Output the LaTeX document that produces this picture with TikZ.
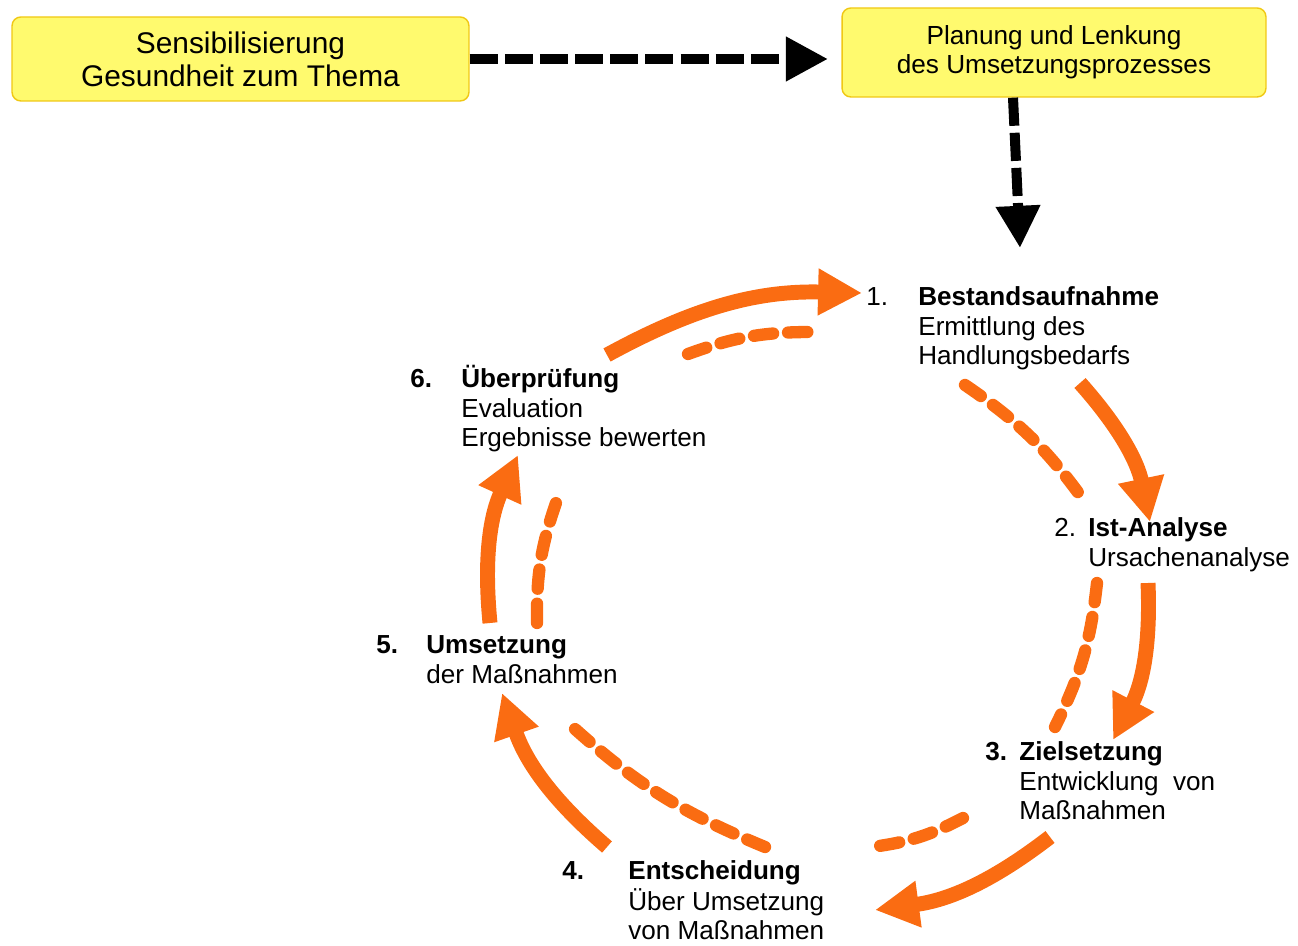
\documentclass[tikz,border=0pt]{standalone}
\usepackage{fontspec}
\setmainfont{Liberation Sans}
\usetikzlibrary{arrows.meta}
\definecolor{cycleorange}{RGB}{250,108,18}
\definecolor{boxyellow}{RGB}{255,250,110}
\definecolor{boxrim}{RGB}{240,200,20}
\newcommand{\stepblock}[1]{\begin{tabular}[t]{@{}l@{}}#1\end{tabular}}
\begin{document}
\begin{tikzpicture}[x=0.02cm, y=0.02cm,
    topbox/.style={draw=boxrim, line width=0.8pt, fill=boxyellow, rounded corners=5pt, align=center, inner sep=0pt},
    blackflow/.style={line width=5.7pt, dash pattern=on 16pt off 4pt, -{Triangle[length=24pt, width=24pt]}},
    cycleflow/.style={cycleorange, line width=8.5pt, -{Triangle[length=25pt, width=25pt]}},
    backflow/.style={cycleorange, line width=7pt, line cap=round, dash pattern=on 11pt off 8.5pt},
    stepnum/.style={anchor=base west, inner sep=0pt, font=\fontsize{14.85}{16.7}\selectfont},
    steptext/.style={anchor=base west, inner sep=0pt, font=\fontsize{14.85}{16.7}\selectfont}]
    \useasboundingbox (0,0) rectangle (1298,946);
    % Top boxes
    \node[topbox, minimum width=9.14cm, minimum height=1.68cm, font=\fontsize{17}{18.7}\selectfont] (sens) at (240.5,887) {Sensibilisierung\\Gesundheit zum Thema};
    \node[topbox, minimum width=8.48cm, minimum height=1.78cm, font=\fontsize{14.9}{16.4}\selectfont] (plan) at (1054,893.5) {Planung und Lenkung\\des Umsetzungsprozesses};
    \coordinate (planin) at (828,887); \coordinate (cyclein) at (1020,698);
    \draw[blackflow] (sens.east) -- (planin);
    \draw[blackflow] ([xshift=-0.82cm]plan.south) -- (cyclein);
    % Steps of the cycle
    \node[stepnum] (n1) at (866,640) {1.};
    \node[steptext] (s1) at (918,640) {\stepblock{\textbf{Bestandsaufnahme}\\Ermittlung des\\Handlungsbedarfs}};
    \node[stepnum] (n2) at (1054,409) {2.};
    \node[steptext] (s2) at (1088,409) {\stepblock{\textbf{Ist-Analyse}\\Ursachenanalyse}};
    \node[stepnum] (n3) at (985,185) {\textbf{3.}};
    \node[steptext] (s3) at (1019,185) {\stepblock{\textbf{Zielsetzung}\\Entwicklung\ \ von\\Maßnahmen}};
    \node[stepnum] (n4) at (562,66) {\textbf{4.}};
    \node[steptext] (s4) at (628,66) {\stepblock{\textbf{Entscheidung}\\Über Umsetzung\\von Maßnahmen}};
    \node[stepnum] (n5) at (376,292) {\textbf{5.}};
    \node[steptext] (s5) at (426,292) {\stepblock{\textbf{Umsetzung}\\der Maßnahmen}};
    \node[stepnum] (n6) at (410,558) {\textbf{6.}};
    \node[steptext] (s6) at (461,558) {\stepblock{\textbf{Überprüfung}\\Evaluation\\Ergebnisse bewerten}};
    % Arrow ends round the cycle
    \coordinate (a6) at (607,591); \coordinate (b1) at (862,653);
    \coordinate (a1) at (1080,563); \coordinate (b2) at (1150,424);
    \coordinate (a2) at (1148,363); \coordinate (b3) at (1113,206);
    \coordinate (a3) at (1050,109); \coordinate (b4) at (875,36);
    \coordinate (a4) at (607,99); \coordinate (b5) at (502,253);
    \coordinate (a5) at (490,323); \coordinate (b6) at (518,491);
    \foreach \p/\q in {a6/b1, a1/b2, a2/b3, a3/b4, a4/b5, a5/b6}
        \draw[cycleflow] (\p) to[bend left=15] (\q);
    % Dashed inner returns
    \coordinate (c6) at (688,592); \coordinate (d1) at (812,614);
    \coordinate (c1) at (965,561); \coordinate (d2) at (1085,444);
    \coordinate (c2) at (1097,363); \coordinate (d3) at (1055,219);
    \coordinate (c3) at (963,128); \coordinate (d4) at (872,99);
    \coordinate (c4) at (765,99); \coordinate (d5) at (565,226);
    \coordinate (c5) at (537,323); \coordinate (d6) at (557,446);
    \foreach \p/\q in {c6/d1, c1/d2, c2/d3, c3/d4, c4/d5, c5/d6}
        \draw[backflow] (\p) to[bend left=10] (\q);
\end{tikzpicture}
\end{document}
